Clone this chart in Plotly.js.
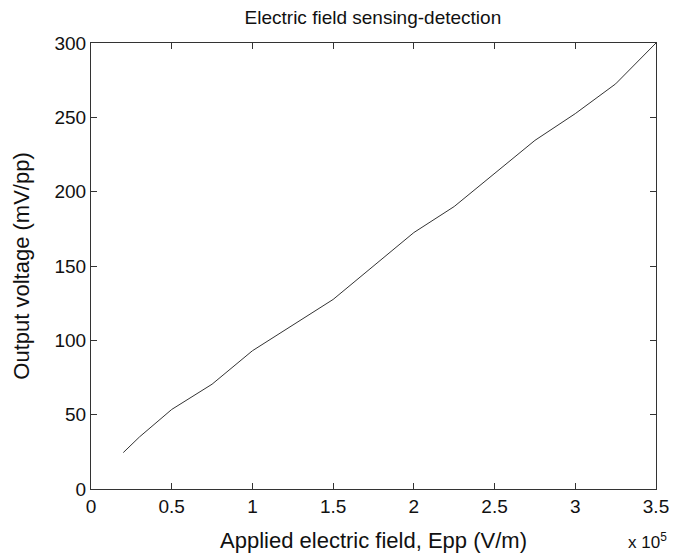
<!DOCTYPE html>
<html>
<head>
<meta charset="utf-8">
<script src="https://cdn.plot.ly/plotly-3.0.1.min.js"></script>
<style>html,body{margin:0;padding:0;background:#fff;}#chart{width:688px;height:557px;}</style>
</head>
<body>
<div id="chart"></div>
<script>
// Applied electric field, in units of 1e5 V/m
const fieldE5 = [0.2, 0.3, 0.5, 0.75, 1.0, 1.5, 2.0, 2.25, 2.75, 3.0, 3.25, 3.5];
// Output voltage (mV/pp)
const outputMv = [24.5, 35, 53.5, 70.5, 93, 127.5, 172.5, 190, 234.5, 252.5, 272.5, 300];
const xTickVals = [0, 0.5, 1, 1.5, 2, 2.5, 3, 3.5];
const xTickText = ["0", "0.5", "1", "1.5", "2", "2.5", "3", "3.5"];
const yTickVals = [0, 50, 100, 150, 200, 250, 300];

const font = "Liberation Sans, Arial, Helvetica, sans-serif";
const axisCommon = {
  showgrid: false, zeroline: false, showline: true, mirror: 'ticks',
  linecolor: '#333', linewidth: 1, ticks: 'inside', ticklen: 6, tickcolor: '#333',
  tickfont: {family: font, size: 19, color: '#111'}
};

Plotly.newPlot('chart', [{
  x: fieldE5, y: outputMv, type: 'scatter', mode: 'lines',
  line: {color: '#333', width: 1}, hoverinfo: 'skip'
}], {
  width: 688, height: 557,
  margin: {l: 91, r: 32, t: 43, b: 68},
  paper_bgcolor: '#fff', plot_bgcolor: '#fff',
  showlegend: false,
  title: {text: 'Electric field sensing-detection', font: {family: font, size: 19, color: '#111'},
          x: 0.542, xanchor: 'center', y: 0.968, yanchor: 'middle'},
  xaxis: Object.assign({}, axisCommon, {
    range: [0, 3.5], tickmode: 'array', tickvals: xTickVals, ticktext: xTickText,
    title: {text: 'Applied electric field, Epp (V/m)', font: {family: font, size: 22, color: '#111'}, standoff: 16}
  }),
  yaxis: Object.assign({}, axisCommon, {
    range: [0, 300], tickmode: 'array', tickvals: yTickVals,
    title: {text: 'Output voltage (mV/pp)', font: {family: font, size: 22, color: '#111'}, standoff: 18}
  }),
  annotations: [{
    text: 'x 10<sup>5</sup>', xref: 'paper', yref: 'paper', x: 0.985, y: -0.116,
    xanchor: 'center', yanchor: 'middle', showarrow: false,
    font: {family: font, size: 17, color: '#111'}
  }]
}, {displayModeBar: false, staticPlot: true});
</script>
</body>
</html>
